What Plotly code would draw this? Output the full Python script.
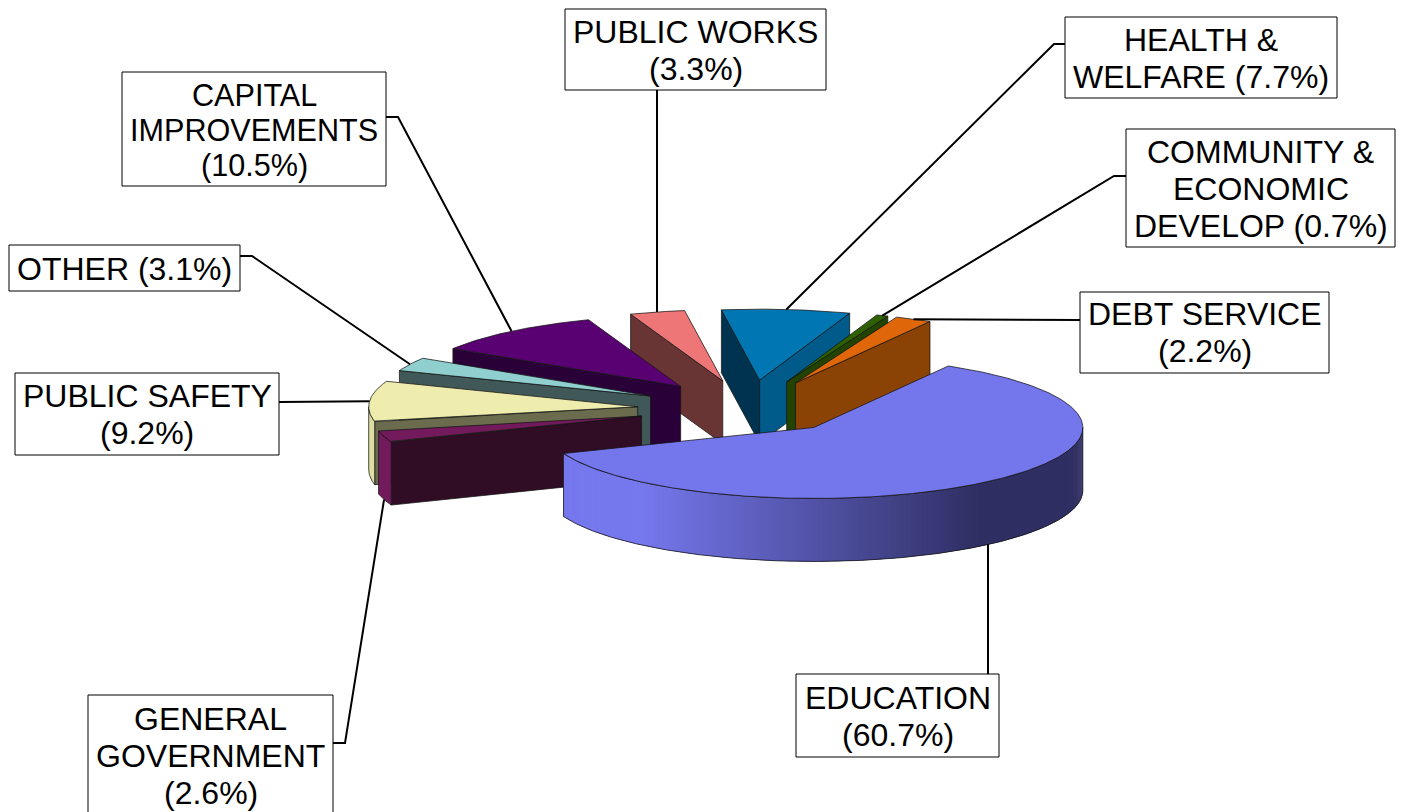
import math
import plotly.graph_objects as go

# Budget shares, in drawing order clockwise from the start angle
categories = ["EDUCATION", "GENERAL GOVERNMENT", "PUBLIC SAFETY", "OTHER",
              "CAPITAL IMPROVEMENTS", "PUBLIC WORKS", "HEALTH & WELFARE",
              "COMMUNITY & ECONOMIC DEVELOP", "DEBT SERVICE"]
shares = [60.7, 2.6, 9.2, 3.1, 10.5, 3.3, 7.7, 0.7, 2.2]

top_colors = ["#7476EC", "#731A5C", "#EEEDAE", "#8FCFCF", "#590073",
              "#EE7676", "#0077B3", "#2F6000", "#E0660A"]
# Shade of the side walls: left-facing radial, right-facing radial, outer rim
left_wall = ["#7476EC", "#310C25", "#6B6B4E", "#415858", "#2A0038",
             "#683434", "#003350", "#224400", "#8B4305"]
right_wall = ["#7476EC", "#310C25", "#6B6B4E", "#415858", "#2A0038",
              "#683434", "#005A8A", "#224400", "#8B4305"]
rim_wall = ["#7476EC", "#731A5C", "#DEDDA2", "#415858", "#2A0038",
            "#683434", "#005A8A", "#224400", "#8B4305"]

label_lines = [
    ["EDUCATION", "({v}%)"],
    ["GENERAL", "GOVERNMENT", "({v}%)"],
    ["PUBLIC SAFETY", "({v}%)"],
    ["OTHER ({v}%)"],
    ["CAPITAL", "IMPROVEMENTS", "({v}%)"],
    ["PUBLIC WORKS", "({v}%)"],
    ["HEALTH &", "WELFARE ({v}%)"],
    ["COMMUNITY &", "ECONOMIC", "DEVELOP ({v}%)"],
    ["DEBT SERVICE", "({v}%)"],
]
label_sizes = [32, 32, 32, 32, 30.6, 32, 32, 32, 32]
# Label boxes: left, right, top, first text line centre
label_boxes = [
    (796, 999, 674, 698),
    (88, 333, 695, 719),
    (15, 279, 373, 396),
    (9, 240, 245, 269),
    (122, 386, 72, 94.5),
    (565, 826, 9, 32),
    (1065, 1337, 17, 40),
    (1126, 1395, 129, 152),
    (1080, 1329, 292, 314),
]
label_bottoms = [757, 830, 455, 291, 186, 90, 98, 247, 373]
# Fixed leader points between the box edge and the slice
leader_elbows = [
    [(988, 674), (988, None)],
    [(333, 743), (345, 743)],
    [(279, 402)],
    [(240, 256), (252, 256)],
    [(386, 117), (398, 117)],
    [(657, 90), (657, None)],
    [(1065, 44), (1054, 44)],
    [(1126, 176), (1114, 176)],
    [(1080, 320)],
]

START_ANGLE = 60.0
CENTER_X, CENTER_Y = 744.0, 409.0
RADIUS_X, RADIUS_Y = 269.0, 71.0
EXPLODE_X = 107.0
EXPLODE_Y_BACK, EXPLODE_Y_FRONT = 29.0, 24.4
SKEW_X_BACK = 5.0
DEPTH = 63.0
ARC_STEP_DEG = 0.5
LINE_RATIO = 1.16
EDGE = "rgba(20,20,20,0.75)"


def slice_geometry():
    out = []
    angle = START_ANGLE
    for v in shares:
        sweep = v / sum(shares) * 360.0
        a0, a1 = angle, angle - sweep
        mid = math.radians((a0 + a1) / 2)
        s = math.sin(mid)
        tip = (CENTER_X + EXPLODE_X * math.cos(mid) + SKEW_X_BACK * max(s, 0.0),
               CENTER_Y - (EXPLODE_Y_BACK if s >= 0 else EXPLODE_Y_FRONT) * s)
        n = max(3, int(sweep / ARC_STEP_DEG))
        arc = []
        for i in range(n + 1):
            t = math.radians(a0 + (a1 - a0) * i / n)
            arc.append((tip[0] + RADIUS_X * math.cos(t),
                        tip[1] - RADIUS_Y * math.sin(t)))
        anchor = (tip[0] + RADIUS_X * math.cos(mid),
                  tip[1] - RADIUS_Y * s + (DEPTH if s < 0 else 0))
        out.append(dict(tip=tip, arc=arc, anchor=anchor))
        angle = a1
    return out


def polygon(points, fill, line=EDGE, width=1):
    xs = [p[0] for p in points] + [points[0][0]]
    ys = [p[1] for p in points] + [points[0][1]]
    return go.Scatter(x=xs, y=ys, mode="lines", fill="toself", fillcolor=fill,
                      line=dict(color=line, width=width), hoverinfo="skip",
                      showlegend=False)


def rim_shade(x):
    # Education rim darkens from left to right
    light, dark = (0x76, 0x78, 0xED), (0x2F, 0x2F, 0x63)
    t = min(1.0, max(0.0, (x - 640) / 340))
    return "rgb(%d,%d,%d)" % tuple(round(a + (b - a) * t) for a, b in zip(light, dark))


def drop(p):
    return (p[0], p[1] + DEPTH)


fig = go.Figure()
geo = slice_geometry()
paint_order = [5, 6, 7, 8, 4, 3, 2, 1, 0]

for i in paint_order:
    g = geo[i]
    tip, arc = g["tip"], g["arc"]
    # Radial faces: only those running leftward around the clockwise outline face the viewer
    if arc[0][0] < tip[0]:
        fig.add_trace(polygon([tip, arc[0], drop(arc[0]), drop(tip)], left_wall[i]))
    if tip[0] < arc[-1][0]:
        fig.add_trace(polygon([arc[-1], tip, drop(tip), drop(arc[-1])], right_wall[i]))
    # Outer rim
    rim = [p for p, q in zip(arc, arc[1:]) if q[0] < p[0]]
    if rim:
        rim.append(arc[arc.index(rim[-1]) + 1])
        if i == 0:
            # Overlapping bands with no outline keep the shading free of seams
            for j in range(len(rim) - 1):
                p, q = rim[j], rim[min(j + 2, len(rim) - 1)]
                c = rim_shade((rim[j][0] + rim[j + 1][0]) / 2)
                fig.add_trace(polygon([p, q, drop(q), drop(p)], c, line=c, width=0))
            outline = rim + [drop(p) for p in reversed(rim)]
            fig.add_trace(go.Scatter(x=[p[0] for p in outline] + [outline[0][0]],
                                     y=[p[1] for p in outline] + [outline[0][1]],
                                     mode="lines", line=dict(color=EDGE, width=1),
                                     hoverinfo="skip", showlegend=False))
        else:
            fig.add_trace(polygon(rim + [drop(p) for p in reversed(rim)], rim_wall[i]))
    # Top surface
    fig.add_trace(polygon([tip] + arc, top_colors[i]))

shapes = []
annotations = []
for i, name in enumerate(categories):
    left, right, top, first = label_boxes[i]
    shapes.append(dict(type="rect", xref="x", yref="y", x0=left, x1=right,
                       y0=top, y1=label_bottoms[i], fillcolor="white",
                       line=dict(color="black", width=1), layer="above"))
    for k, text in enumerate(label_lines[i]):
        annotations.append(dict(x=(left + right) / 2, y=first + k * label_sizes[i] * LINE_RATIO,
                                xref="x", yref="y",
                                text=text.format(v=shares[i]), showarrow=False,
                                xanchor="center", yanchor="middle",
                                font=dict(family="Liberation Sans, Arial",
                                          size=label_sizes[i], color="black")))
    # Leader line from the box to the slice
    anchor = geo[i]["anchor"]
    pts = [(p[0], anchor[1] if p[1] is None else p[1]) for p in leader_elbows[i]]
    if leader_elbows[i][-1][1] is not None:
        pts = pts + [anchor]
    fig.add_trace(go.Scatter(x=[p[0] for p in pts], y=[p[1] for p in pts], mode="lines",
                             line=dict(color="black", width=2), hoverinfo="skip",
                             showlegend=False))

fig.update_layout(
    width=1408, height=812, margin=dict(l=0, r=0, t=0, b=0),
    paper_bgcolor="white", plot_bgcolor="white", showlegend=False,
    xaxis=dict(range=[0, 1408], visible=False, fixedrange=True),
    yaxis=dict(range=[812, 0], visible=False, fixedrange=True),
    shapes=shapes, annotations=annotations,
)
fig.write_html("out.html", config=dict(displayModeBar=False))
